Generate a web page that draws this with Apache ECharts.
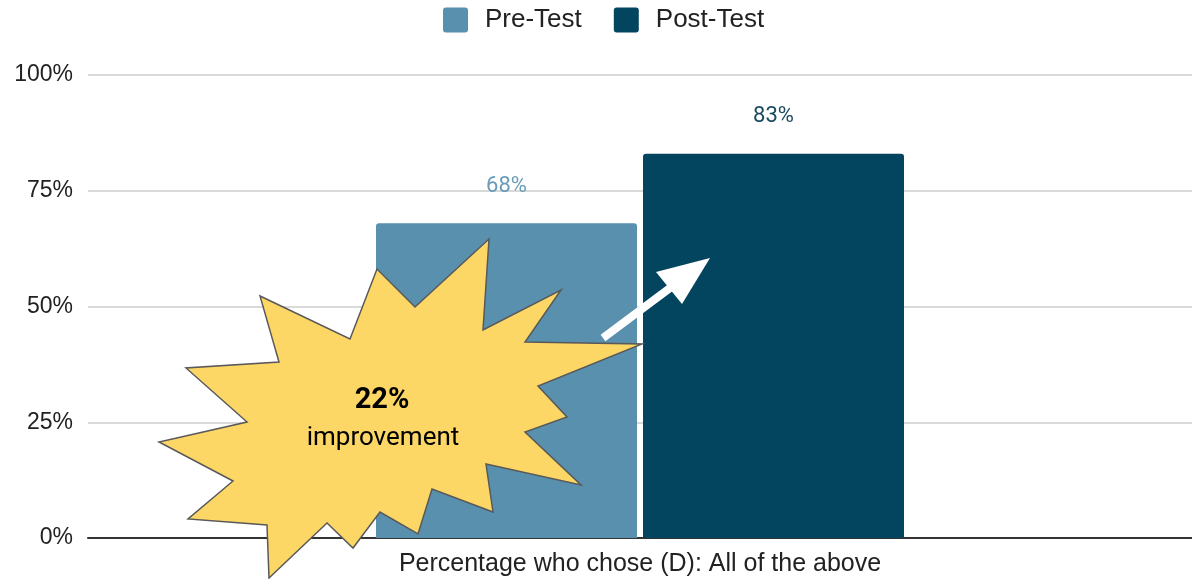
<!DOCTYPE html>
<html>
<head>
<meta charset="utf-8">
<script src="https://cdn.jsdelivr.net/npm/echarts@6/dist/echarts.min.js"></script>
<style>
  html, body { margin: 0; padding: 0; background: #fff; }
  #chart { width: 1192px; height: 579px; }
</style>
</head>
<body>
<div id="chart"></div>
<script>
// data
const categories = ['Percentage who chose (D): All of the above']
const seriesNames = ['Pre-Test', 'Post-Test']
const preTest = [68]
const postTest = [83]
const yTicks = [0, 25, 50, 75, 100]

const chart = echarts.init(document.getElementById('chart'))
const sans = "'Liberation Sans', Arial, sans-serif"

// starburst callout (pixel outline)
const burst = [
  [489, 239], [483, 330], [561, 290], [525, 342], [642, 344], [538, 386],
  [567, 417], [525, 432], [581, 485], [486, 464], [493, 512], [432, 489],
  [418, 534], [380, 512], [353, 548], [327, 523], [269, 578], [267, 525],
  [188, 519], [233, 481], [159, 442], [247, 422], [186, 368], [279, 362],
  [260, 296], [350, 339], [377, 269], [415, 307]
]

const option = {
  animation: false,
  textStyle: { fontFamily: sans },
  legend: {
    data: seriesNames,
    top: 7,
    left: 443,
    padding: 0,
    itemWidth: 25,
    itemHeight: 25,
    itemGap: 32,
    icon: 'path://M3,0H22Q25,0,25,3V22Q25,25,22,25H3Q0,25,0,22V3Q0,0,3,0Z',
    textStyle: { fontSize: 26, color: '#222', fontFamily: sans, padding: [3, 0, 0, 12] }
  },
  grid: { left: 88, right: 0, top: 75, bottom: 41 },
  xAxis: {
    type: 'category',
    data: categories,
    axisTick: { show: false },
    axisLine: { lineStyle: { color: '#333', width: 2 } },
    axisLabel: { fontSize: 25, color: '#222', fontFamily: sans, margin: 14 }
  },
  yAxis: {
    type: 'value',
    min: yTicks[0],
    max: yTicks[yTicks.length - 1],
    interval: 25,
    axisLine: { show: false },
    axisTick: { show: false },
    axisLabel: { fontSize: 23, color: '#222', fontFamily: sans, margin: 15, formatter: '{value}%' },
    splitLine: { lineStyle: { color: '#cccccc', width: 1.5 } }
  },
  color: ['#5890ae', '#03455f'],
  series: [
    {
      name: seriesNames[0],
      type: 'bar',
      data: preTest,
      barWidth: 261,
      barGap: '2.3%',
      itemStyle: { borderRadius: [3, 3, 0, 0] },
      label: {
        show: true, position: 'top', distance: 26, formatter: '{c}%',
        fontSize: 22, color: '#6a9cb8', fontFamily: 'Roboto'
      }
    },
    {
      name: seriesNames[1],
      type: 'bar',
      data: postTest,
      barWidth: 261,
      itemStyle: { borderRadius: [3, 3, 0, 0] },
      label: {
        show: true, position: 'top', distance: 26, formatter: '{c}%',
        fontSize: 22, color: '#1b4a60', fontFamily: 'Roboto'
      }
    }
  ],
  graphic: [
    {
      type: 'polygon',
      z: 100,
      shape: { points: burst },
      style: { fill: '#fdd766', stroke: '#595959', lineWidth: 1.5 }
    },
    {
      type: 'text',
      z: 101,
      x: 382, y: 386,
      style: { text: '22%', font: 'bold 29px Roboto', fill: '#000', align: 'center' }
    },
    {
      type: 'text',
      z: 101,
      x: 383, y: 425,
      style: { text: 'improvement', font: '26px Roboto', fill: '#000', align: 'center' }
    },
    // white arrow
    {
      type: 'line',
      z: 100,
      shape: { x1: 603, y1: 338, x2: 670, y2: 288 },
      style: { stroke: '#fff', lineWidth: 8 }
    },
    {
      type: 'polygon',
      z: 100,
      shape: { points: [[710, 258], [656, 272], [682, 304]] },
      style: { fill: '#fff' }
    }
  ]
}

chart.setOption(option)
</script>
</body>
</html>
